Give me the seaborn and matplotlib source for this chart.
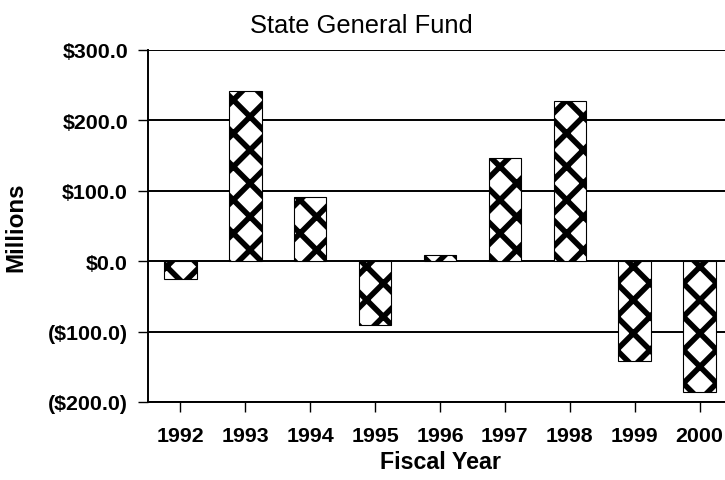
import matplotlib

matplotlib.use("Agg")
import matplotlib.pyplot as plt
from matplotlib.ticker import FuncFormatter
import seaborn as sns

years = ["1992", "1993", "1994", "1995", "1996", "1997", "1998", "1999", "2000"]
balance = [-26, 242, 91, -90, 9, 147, 227, -142, -186]  # $ millions
y_ticks = [-200, -100, 0, 100, 200, 300]

sns.set_style("white")
plt.rcParams["font.family"] = ["Liberation Sans", "DejaVu Sans"]
plt.rcParams["hatch.linewidth"] = 2.0
plt.rcParams["hatch.color"] = "black"
plt.rcParams["text.color"] = "black"
plt.rcParams["axes.labelcolor"] = "black"

# high dpi so the hatch comes out coarse like the scan
fig = plt.figure(figsize=(3.625, 2.405), dpi=200)
ax = fig.add_axes([0.2041, 0.1622, 0.8056, 0.7318])

sns.barplot(x=years, y=balance, color="white", saturation=1, width=0.5,
            edgecolor="black", linewidth=0.4, hatch="xx", ax=ax, zorder=3)

ax.set_ylim(-200, 300)
ax.set_yticks(y_ticks)


def money(v, pos):
    return f"${v:.1f}" if v >= 0 else f"(${-v:.1f})"


ax.yaxis.set_major_formatter(FuncFormatter(money))
ax.yaxis.grid(True, color="black", linewidth=0.7)
ax.set_axisbelow(True)

for side in ["top", "right"]:
    ax.spines[side].set_visible(False)
for side in ["left", "bottom"]:
    ax.spines[side].set_color("black")
    ax.spines[side].set_linewidth(0.7)

ax.tick_params(axis="y", direction="out", length=3.6, width=0.5, pad=3.6,
               labelsize=7.7, left=True, colors="black")
ax.tick_params(axis="x", direction="out", length=3.6, width=0.5, pad=5,
               labelsize=7.7, bottom=True, colors="black")
for lbl in ax.get_xticklabels() + ax.get_yticklabels():
    lbl.set_fontweight("bold")

ax.set_xlabel("Fiscal Year", fontsize=8.4, fontweight="bold", labelpad=2)
ax.set_ylabel("Millions", fontsize=8.7, fontweight="bold", labelpad=6)
ax.yaxis.set_label_coords(-0.207, 0.5)
fig.text(0.498, 0.945, "State General Fund", ha="center", va="center", fontsize=9.2)

plt.savefig("out.png", dpi=200)
plt.close()
